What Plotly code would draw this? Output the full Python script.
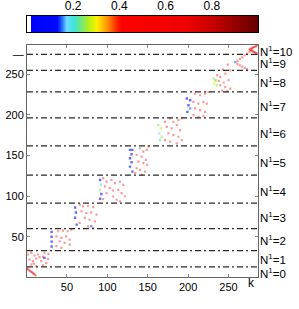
import numpy as np
import plotly.graph_objects as go

# ---------------- data ----------------
boundaries = [13, 33, 60, 91.5, 126, 162, 196.5, 228.5, 255, 274.5]
label_texts = ["N<sup>1</sup>=%d" % i for i in range(11)]
label_y = [6, 23, 46, 74, 107, 142.5, 178, 211, 240.5, 263.5, 279]

x_ticks = [50, 100, 150, 200, 250]
y_ticks = [50, 100, 150, 200, 250, 275]
y_ticktext = ["50", "100", "150", "200", "250", "—"]
cb_ticks = [0.2, 0.4, 0.6, 0.8]

# block 0 / 10 (line-like entries)
b0_x = [0.5, 2, 3.5, 5, 6.5, 8, 9.5, 11]
b0_y = [11, 9.8, 8.6, 7.4, 6.2, 5, 3.8, 2.6]
b10_x = [276, 277.5, 279, 280.5, 282, 283.5, 285, 277.5, 279, 280.5, 282, 283.5, 285]
b10_y = [280.6, 281.4, 282.2, 283, 283.8, 284.6, 285.4, 279.8, 279, 278.2, 277.4, 276.6, 275.8]

# red (mostly) entries per block
b1_x = [1.6, 5.8, 9.9, 14.0, 20.3, 26.5, 3.7, 7.8, 12.0, 18.2, 24.4, 5.8, 12.0, 20.3, 16, 22, 9, 27]
b1_y = [28.2, 30.2, 27.0, 28.2, 25.3, 22.9, 22.0, 20.0, 23.0, 20.0, 18.0, 16.0, 13.9, 14.7, 25, 30, 17, 29]
b2_x = [39, 45, 51, 55.5, 36.9, 43, 49, 53.4, 41, 47, 53.4, 36.9, 43]
b2_y = [56.8, 57.5, 56.8, 58.8, 50.6, 48.6, 50.6, 46.6, 44.5, 42.5, 40.4, 38.4, 36.4]
b3_x = [65.8, 70, 76, 82.4, 68, 74, 80, 86.6, 72, 78, 84.5, 65.8, 76, 82.4]
b3_y = [89.5, 87.4, 88.2, 86.6, 81.3, 79.3, 80, 77.2, 73.2, 71, 69, 67, 62.9, 60.9]
b4_x = [94.8, 99, 105, 109.3, 115.5, 119.6, 97, 103, 107, 113.4, 117.6, 121.7, 99, 107, 111.4, 94.8, 115.5]
b4_y = [122.2, 118, 120, 116, 118, 114, 112, 110, 107, 107.8, 103.8, 99.6, 103.8, 99.6, 95.6, 96.4, 93.5]
b5_x = [140.4, 144.5, 148.7, 136.3, 142.5, 147.8, 138.3, 144.5, 149.4, 136.3, 140.4, 146.6, 134.2, 142.5]
b5_y = [159, 154.8, 156.9, 150.7, 148.7, 144.6, 142.5, 140.6, 138.5, 134.4, 132.4, 130.3, 128.3, 126.2]
b6_x = [171.4, 177.6, 181.7, 188, 192.2, 173.5, 179.7, 186, 190, 175.6, 181.7, 188, 192.2, 171.4, 177.6, 186]
b6_y = [191.5, 195.7, 191.5, 193.6, 195.7, 185.4, 183.4, 187.5, 181.4, 177.3, 175.2, 173.2, 169.1, 169.1, 167, 165]
b7_x = [208.7, 214.9, 221, 225.2, 206.6, 212.8, 219, 223.2, 208.7, 214.9, 221, 206.6, 212.8, 219]
b7_y = [226.3, 224.3, 226.3, 228.3, 216, 214, 216, 214, 208, 205.9, 203.8, 199.8, 197.7, 198.5]
b8_x = [239.8, 246, 252.2, 239.8, 246, 252.2, 238, 244, 250, 242, 248, 236, 243, 249]
b8_y = [246.7, 250.8, 254.9, 236.5, 234.4, 232.4, 242, 240, 243, 230, 229, 249, 256, 262]
b9_x = [261, 264, 267, 270, 273, 276, 261, 264, 267, 270, 273]
b9_y = [266.5, 269, 271, 273.5, 275.5, 277.5, 263, 261, 259.5, 258, 256.5]

# coloured (low-value) entries
c_x = [22, 31, 31, 31, 31, 60, 61, 60, 62, 80, 91, 92, 91, 92.5, 91,
       128, 131, 130, 128, 130, 128, 131, 150.7,
       163.1, 166, 164.3, 167.3, 165.2,
       198.4, 202.5, 200.4, 202.5, 199.1,
       231.4, 233.5, 232, 235.6, 234, 258.4]
c_y = [24, 56, 50, 44, 38, 86, 80, 73.5, 65, 63, 120, 114, 108, 102.6, 96.8,
       157, 157, 151.6, 146.7, 141.8, 136.4, 130.3, 161,
       187.5, 183.4, 177.3, 173.2, 169.1,
       220.2, 218.1, 212, 208, 203.8,
       244.7, 241, 238.5, 236.5, 243, 265]
c_v = [0.1, 0.1, 0.12, 0.1, 0.1, 0.1, 0.1, 0.12, 0.1, 0.15, 0.1, 0.18, 0.25, 0.12, 0.1,
       0.1, 0.12, 0.1, 0.1, 0.12, 0.1, 0.1, 0.35,
       0.25, 0.28, 0.17, 0.25, 0.22,
       0.1, 0.12, 0.1, 0.15, 0.1,
       0.25, 0.28, 0.3, 0.25, 0.22, 0.15]
red_value = 0.5

colorscale = [
    [0.0, "rgb(255,255,255)"], [0.014, "rgb(255,255,255)"], [0.016, "rgb(0,0,255)"],
    [0.13, "rgb(0,10,255)"], [0.15, "rgb(40,110,255)"], [0.17, "rgb(110,220,255)"],
    [0.2, "rgb(60,230,220)"], [0.23, "rgb(110,230,130)"], [0.27, "rgb(190,240,20)"],
    [0.3, "rgb(255,240,0)"], [0.33, "rgb(255,180,0)"], [0.36, "rgb(255,110,0)"],
    [0.39, "rgb(255,30,0)"], [0.41, "rgb(255,0,0)"], [0.68, "rgb(240,0,0)"],
    [0.8, "rgb(200,0,0)"], [0.9, "rgb(150,0,0)"], [1.0, "rgb(100,0,0)"],
]

FONT = "Liberation Sans, Arial, sans-serif"

fig = go.Figure()

red_x = b1_x + b2_x + b3_x + b4_x + b5_x + b6_x + b7_x + b8_x + b9_x
red_y = b1_y + b2_y + b3_y + b4_y + b5_y + b6_y + b7_y + b8_y + b9_y
fig.add_trace(go.Scatter(
    x=red_x, y=red_y, mode="markers",
    marker=dict(symbol="square", size=2.2, color=[red_value] * len(red_x),
                colorscale=colorscale, cmin=0, cmax=1, opacity=0.4, line=dict(width=0)),
    showlegend=False, hoverinfo="skip"))
line_x = b0_x + b10_x
line_y = b0_y + b10_y
fig.add_trace(go.Scatter(
    x=line_x, y=line_y, mode="markers",
    marker=dict(symbol="square", size=2, color=[red_value] * len(line_x),
                colorscale=colorscale, cmin=0, cmax=1, opacity=0.6, line=dict(width=0)),
    showlegend=False, hoverinfo="skip"))
fig.add_trace(go.Scatter(
    x=c_x, y=c_y, mode="markers",
    marker=dict(symbol="square", size=2.4, color=c_v,
                colorscale=colorscale, cmin=0, cmax=1, opacity=0.6, line=dict(width=0)),
    showlegend=False, hoverinfo="skip"))

# colour bar drawn as a heatmap on its own axes
cb_vals = np.linspace(0, 1, 232)
fig.add_trace(go.Heatmap(
    z=[cb_vals], x=cb_vals, y=[0], colorscale=colorscale, zmin=0, zmax=1,
    showscale=False, xaxis="x2", yaxis="y2", hoverinfo="skip"))

for b in boundaries:
    fig.add_shape(type="line", xref="x", yref="y", x0=0.5, x1=286.5, y0=b, y1=b,
                  line=dict(color="#2a2a2a", width=1.3, dash="6px,3px,2px,3px"))

for t, yv in zip(label_texts, label_y):
    fig.add_annotation(text=t, xref="paper", yref="y", x=1.0, y=yv, xanchor="left",
                       yanchor="middle", xshift=0, showarrow=False,
                       font=dict(family=FONT, size=11.5, color="black"))
fig.add_annotation(text="k", xref="paper", yref="paper", x=0.973, y=-0.024,
                   xanchor="center", yanchor="middle", showarrow=False,
                   font=dict(family=FONT, size=12, color="black"))

fig.update_layout(
    width=299, height=309,
    margin=dict(l=27, r=41, t=15, b=32, autoexpand=False),
    paper_bgcolor="white", plot_bgcolor="white",
    font=dict(family=FONT, size=11, color="black"),
    xaxis=dict(range=[0.5, 286.5], domain=[0, 1], tickvals=x_ticks, ticks="inside", ticklen=3,
               tickcolor="#888", showgrid=False, zeroline=False, showline=True, linecolor="#666",
               linewidth=1, mirror="ticks", tickfont=dict(size=11), automargin=False),
    yaxis=dict(range=[0.5, 286.5], domain=[0, 0.8866], tickvals=y_ticks, ticktext=y_ticktext,
               ticks="inside", ticklen=3, tickcolor="#888", showgrid=False, zeroline=False,
               showline=True, linecolor="#666", linewidth=1, mirror="ticks", tickfont=dict(size=11),
               automargin=False),
    xaxis2=dict(range=[0, 1], domain=[0, 1], anchor="y2", side="top", tickvals=cb_ticks,
                ticks="", showgrid=False, zeroline=False, showline=True, linecolor="black",
                linewidth=1, mirror=True, tickfont=dict(size=12), automargin=False),
    yaxis2=dict(range=[-0.5, 0.5], domain=[0.934, 0.997], anchor="x2", showticklabels=False,
                ticks="", showgrid=False, zeroline=False, showline=True, linecolor="black",
                linewidth=1, mirror=True, automargin=False),
)

fig.write_html("out.html", config={"displayModeBar": False},
               post_script="document.body.style.margin='0';document.body.style.padding='0';")
